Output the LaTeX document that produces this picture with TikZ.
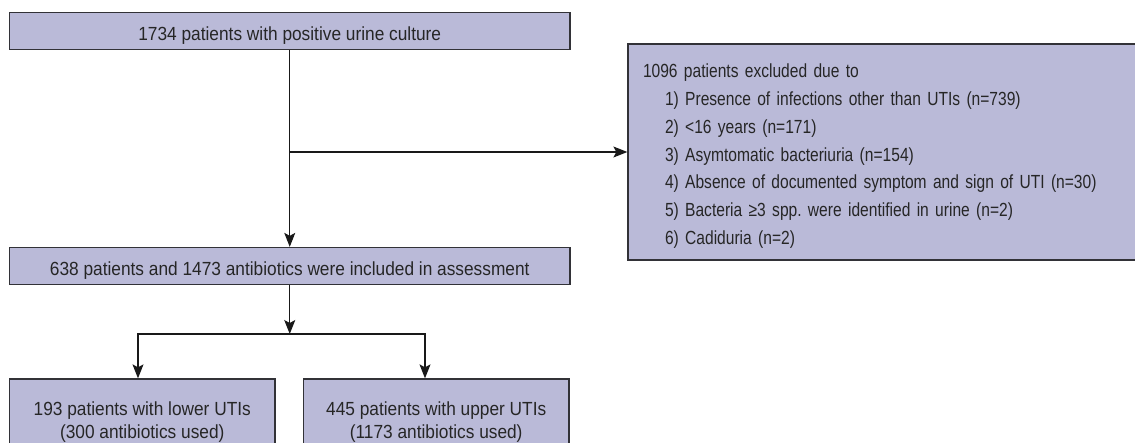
\documentclass[tikz,border=0pt]{standalone}
\usepackage{fontspec}
\setmainfont[FakeStretch=0.82]{Liberation Sans}
\newfontfamily\widefont[FakeStretch=0.91]{Liberation Sans}
\usetikzlibrary{arrows.meta}
\definecolor{boxfill}{RGB}{186,186,216}
\definecolor{boxline}{RGB}{50,50,55}

\begin{document}
\begin{tikzpicture}[x=1pt,y=-1pt,
    >={Stealth[length=14pt,width=11pt,inset=3pt]},
    font=\fontsize{19}{27.7}\selectfont,
    text=black!85,
    box/.style={rectangle,draw=boxline,fill=boxfill,line width=1.3pt,inner sep=0pt},
    wide box/.style={box,minimum width=560.5pt,minimum height=37pt,
                     text height=18pt,text depth=0pt,font=\widefont\fontsize{19}{23}\selectfont},
    leaf box/.style={box,minimum width=265.5pt,minimum height=86pt,align=center,
                     font=\widefont\fontsize{19}{23}\selectfont},
    flow/.style={->,line width=1.1pt,draw=black!90}]

  \useasboundingbox (0,0) rectangle (1135,442);
  \clip (0,0) rectangle (1135,442);

  % boxes
  \node[wide box] (culture) at (289.75,31) {1734 patients with positive urine culture};
  \node[box,minimum height=216pt,text width=482pt,inner xsep=15pt,align=left]
    (excluded) at (884,152)
    {\rule{0pt}{22pt}1096 patients excluded due to\\
     \hspace*{22pt}1) Presence of infections other than UTIs (n=739)\\
     \hspace*{22pt}2) <16 years (n=171)\\
     \hspace*{22pt}3) Asymtomatic bacteriuria (n=154)\\
     \hspace*{22pt}4) Absence of documented symptom and sign of UTI (n=30)\\
     \hspace*{22pt}5) Bacteria ≥3 spp.\ were identified in urine (n=2)\\
     \hspace*{22pt}6) Cadiduria (n=2)};
  \node[wide box] (included) at (289.75,266) {638 patients and 1473 antibiotics were included in assessment};
  \node[leaf box] (lower) at (142.25,422) {193 patients with lower UTIs\\(300 antibiotics used)};
  \node[leaf box] (upper) at (436.2,422) {445 patients with upper UTIs\\(1173 antibiotics used)};

  % connectors
  \coordinate (split) at (289.75,334);
  \draw[flow] (culture) -- (included);
  \draw[flow] (culture.south |- excluded.west) -- (excluded.west);
  \draw[flow] (included) -- (split);
  \draw[flow] (split) -| ([xshift=-4.25pt]lower.north);
  \draw[flow] (split) -| ([xshift=-11.2pt]upper.north);
\end{tikzpicture}
\end{document}
